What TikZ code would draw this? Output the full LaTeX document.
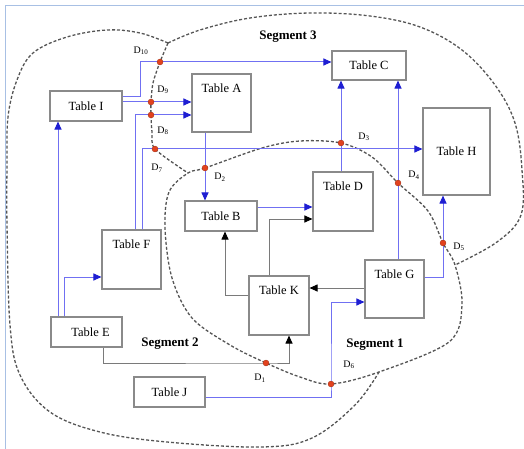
\documentclass[tikz,border=0pt]{standalone}
\usepackage{fontspec}
\setmainfont{Liberation Serif}
\usepackage{tikz}
\usetikzlibrary{arrows.meta}
\definecolor{boxgray}{HTML}{8A8A8A}
\definecolor{lnblue}{HTML}{7070F2}
\definecolor{tipblue}{HTML}{1E1ED2}
\definecolor{lngray}{HTML}{7A7A7A}
\definecolor{dotred}{HTML}{E2421E}
\definecolor{segline}{HTML}{555555}
\definecolor{framebl}{HTML}{A8C0E4}
\newcommand{\dlab}[1]{D\textsubscript{#1}}

\begin{document}
\begin{tikzpicture}[x=1pt,y=-1pt,
  tb/.style={draw=boxgray,line width=1.1pt,fill=white,inner sep=0pt,font=\fontsize{12.5}{14}\selectfont},
  tt/.style={tb,label={[anchor=north,inner sep=0pt,font=\fontsize{12.5}{14}\selectfont,yshift=-10pt]north:#1}},
  bl/.style={lnblue,line width=1pt,-{Triangle[length=8pt,width=7pt,color=tipblue]}},
  bk/.style={lngray,line width=1pt,-{Triangle[length=8pt,width=7pt,color=black]}},
  sg/.style={segline,line width=1.3pt,dash pattern=on 3pt off 2pt},
  dt/.style={circle,fill=dotred,draw=dotred!70!black,line width=0.3pt,inner sep=0pt,minimum size=6pt},
  dl/.style={inner sep=0pt,font=\fontsize{10}{12}\selectfont},
  sl/.style={inner sep=0pt,font=\fontsize{13}{15}\selectfont\bfseries}]
\useasboundingbox (0,0) rectangle (524,449);
\fill[white] (0,0) rectangle (524,449);
\draw[framebl,line width=1pt] (5,449) -- (5,6) -- (524,6);

% junctions of the segment outlines
\coordinate (j0) at (168,43);
\coordinate (j1) at (188,173);
\coordinate (j2) at (379,372);
\coordinate (j3) at (455,265);
% cut points
\coordinate (d1) at (266,363);
\coordinate (d2) at (205,168);
\coordinate (d3) at (341,143);
\coordinate (d4) at (398,183);
\coordinate (d5) at (443,243);
\coordinate (d6) at (331,384);
\coordinate (d7) at (155,149);
\coordinate (d8) at (151,115);
\coordinate (d9) at (151,102);
\coordinate (d10) at (160,62);

% segments
\draw[sg] plot[smooth cycle,tension=0.55] coordinates {(j1) (d2) (262,148) (300,141) (d3) (372,157) (d4) (428,211) (d5) (j3) (462,305) (449,342) (j2) (d6) (300,377) (d1) (230,345) (192,318) (172,278) (165,228) (169,192)};
\draw[sg] plot[smooth,tension=0.6] coordinates {(j0) (200,30) (250,18) (310,13) (370,16) (420,27) (462,50) (495,85) (515,123) (522,170) (521,215) (497,242) (j3)};
\draw[sg] plot[smooth,tension=0.6] coordinates {(j0) (140,33) (107,30) (67,37) (33,53) (17,80) (8,117) (7,167) (7,225) (10,325) (20,375) (50,412) (100,432) (167,442) (262,447) (312,438) (355,405) (j2)};
\draw[sg] plot[smooth,tension=0.5] coordinates {(j0) (d10) (153,83) (d9) (d8) (152,132) (d7) (j1)};

% tables
\node[tb,minimum width=72pt,minimum height=30pt] (I) at (86,106) {Table I};
\node[tt=Table A,minimum width=59pt,minimum height=58pt] (A) at (221.5,103) {};
\node[tb,minimum width=72pt,minimum height=30pt] (B) at (221,216) {Table B};
\node[tb,minimum width=74pt,minimum height=29pt] (C) at (369,65.5) {Table C};
\node[tt=Table D,minimum width=60pt,minimum height=59pt] (D) at (343,201.5) {};
\node[tb,minimum width=67pt,minimum height=87pt] (H) at (456.5,151.5) {Table H};
\node[tt=Table F,minimum width=59pt,minimum height=59pt] (F) at (131.5,259.5) {};
\node[tt=Table G,minimum width=59pt,minimum height=58pt] (G) at (394.5,289) {};
\node[tt=Table K,minimum width=60pt,minimum height=59pt] (K) at (279,305.5) {};
\node[tb,minimum width=71pt,minimum height=30pt] (E) at (86.5,332) {\hspace{8pt}Table E};
\node[tb,minimum width=71pt,minimum height=30pt] (J) at (169.5,392) {Table J\hspace{8pt}};

% connectors
\draw[bl] ([yshift=9pt]I.east) -- ++(18,0) |- (C.west |- d10);
\draw[bl] (I.east |- d9) -- (A.west |- d9);
\draw[bl] ([xshift=3.5pt]F.north) |- (A.west |- d8);
\draw[bl] ([xshift=10.5pt]F.north) |- (H.west |- d7);
\draw[bl] (A.south -| d2) -- (B.north -| d2);
\draw[bl] ([yshift=9pt]B.east) -- ([yshift=9pt]B.east -| D.west);
\draw[bl] (D.north -| d3) -- (C.south -| d3);
\draw[bl] (G.north -| d4) -- (C.south -| d4);
\draw[bl] ([yshift=12pt]G.east) -| (H.south -| d5);
\draw[bl] ([yshift=-5pt]J.east) -| (d6) |- ([yshift=-13pt]G.west);
\draw[bl] ([xshift=-28.5pt]E.north) -- ([xshift=-28pt]I.south);
\draw[bl] ([xshift=-22.5pt]E.north) |- ([yshift=-17.5pt]F.west);
\draw[bk] ([xshift=-10pt]K.north) |- ([yshift=-17.5pt]D.west);
\draw[bk] ([yshift=10.5pt]K.west) -| ([xshift=4pt]B.south);
\draw[bk] ([yshift=1pt]G.west) -- ([yshift=1pt]G.west -| K.east);
\draw[bk] ([xshift=16.5pt]E.south) |- (d1) -| ([xshift=10pt]K.south);

% cut points and their labels
\foreach \i in {1,...,10} \node[dt] at (d\i) {};
\node[dl] (l1) at (260,378) {\dlab{1}};
\node[dl] (l2) at (220,177) {\dlab{2}};
\node[dl] (l3) at (364,137) {\dlab{3}};
\node[dl] (l4) at (414,175) {\dlab{4}};
\node[dl] (l5) at (459,247) {\dlab{5}};
\node[dl] (l6) at (349,365) {\dlab{6}};
\node[dl] (l7) at (157,168) {\dlab{7}};
\node[dl] (l8) at (163,131) {\dlab{8}};
\node[dl] (l9) at (163,90) {\dlab{9}};
\node[dl] (l10) at (141,51) {\dlab{10}};

\node[sl] (s3) at (288,37) {Segment 3};
\node[sl] (s2) at (170,344) {Segment 2};
\node[sl] (s1) at (375,345) {Segment 1};
\end{tikzpicture}
\end{document}
